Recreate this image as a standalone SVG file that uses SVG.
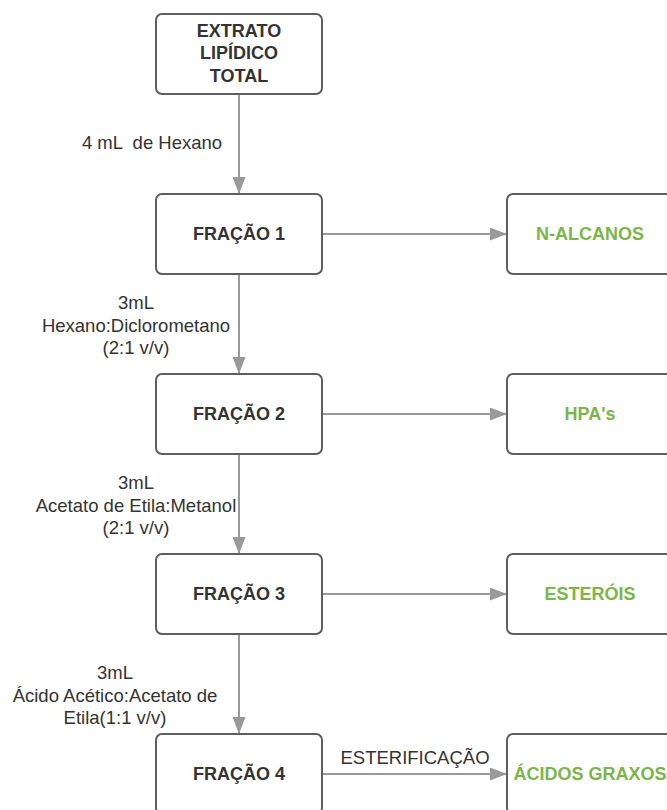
<svg xmlns="http://www.w3.org/2000/svg" width="667" height="810" viewBox="0 0 667 810">
<defs>
<style>
.box{fill:#fff;stroke:#5e5e5e;stroke-width:2}
.t{font-family:"Liberation Sans",Arial,sans-serif;font-size:18px;font-weight:bold;fill:#333;text-anchor:middle}
.g{font-family:"Liberation Sans",Arial,sans-serif;font-size:18px;font-weight:bold;fill:#7ab648;text-anchor:middle}
.l{font-family:"Liberation Sans",Arial,sans-serif;font-size:18.5px;fill:#333;text-anchor:middle;white-space:pre}
.c{stroke:#999;stroke-width:2;fill:none}
</style>
<marker id="ah" viewBox="0 0 17 13" refX="17" refY="6.5" markerWidth="17" markerHeight="13" markerUnits="userSpaceOnUse" orient="auto">
<path d="M0,0 L17,6.5 L0,13 Z" fill="#999"/>
</marker>
</defs>
<rect width="667" height="810" fill="#fff"/>
<g id="connectors">
<line class="c" x1="239" y1="94" x2="239" y2="194" marker-end="url(#ah)"/>
<line class="c" x1="239" y1="274" x2="239" y2="374" marker-end="url(#ah)"/>
<line class="c" x1="239" y1="454" x2="239" y2="554" marker-end="url(#ah)"/>
<line class="c" x1="239" y1="634" x2="239" y2="734" marker-end="url(#ah)"/>
<line class="c" x1="322" y1="234" x2="507" y2="234" marker-end="url(#ah)"/>
<line class="c" x1="322" y1="414" x2="507" y2="414" marker-end="url(#ah)"/>
<line class="c" x1="322" y1="594" x2="507" y2="594" marker-end="url(#ah)"/>
<line class="c" x1="322" y1="774" x2="507" y2="774" marker-end="url(#ah)"/>
<text class="l" x="152" y="149">4 mL  de Hexano</text>
<text class="l" x="136" y="309">3mL</text>
<text class="l" x="136" y="332">Hexano:Diclorometano</text>
<text class="l" x="136" y="354">(2:1 v/v)</text>
<text class="l" x="136" y="489">3mL</text>
<text class="l" x="136" y="512">Acetato de Etila:Metanol</text>
<text class="l" x="136" y="534">(2:1 v/v)</text>
<text class="l" x="115" y="679">3mL</text>
<text class="l" x="115" y="702">Ácido Acético:Acetato de</text>
<text class="l" x="115" y="724">Etila(1:1 v/v)</text>
<text class="l" x="415" y="764">ESTERIFICAÇÃO</text>
</g>
<g id="extrato">
<rect class="box" x="156" y="14" width="166" height="80" rx="6"/>
<text class="t" x="239" y="37">EXTRATO</text>
<text class="t" x="239" y="59">LIPÍDICO</text>
<text class="t" x="239" y="82">TOTAL</text>
</g>
<g id="fracao1">
<rect class="box" x="156" y="194" width="166" height="80" rx="6"/>
<text class="t" x="239" y="240">FRAÇÃO 1</text>
</g>
<g id="fracao2">
<rect class="box" x="156" y="374" width="166" height="80" rx="6"/>
<text class="t" x="239" y="420">FRAÇÃO 2</text>
</g>
<g id="fracao3">
<rect class="box" x="156" y="554" width="166" height="80" rx="6"/>
<text class="t" x="239" y="600">FRAÇÃO 3</text>
</g>
<g id="fracao4">
<rect class="box" x="156" y="734" width="166" height="80" rx="6"/>
<text class="t" x="239" y="780">FRAÇÃO 4</text>
</g>
<g id="nalcanos">
<rect class="box" x="507" y="194" width="166" height="80" rx="6"/>
<text class="g" x="590" y="240">N-ALCANOS</text>
</g>
<g id="hpas">
<rect class="box" x="507" y="374" width="166" height="80" rx="6"/>
<text class="g" x="590" y="420">HPA's</text>
</g>
<g id="esterois">
<rect class="box" x="507" y="554" width="166" height="80" rx="6"/>
<text class="g" x="590" y="600">ESTERÓIS</text>
</g>
<g id="acidos">
<rect class="box" x="507" y="734" width="166" height="80" rx="6"/>
<text class="g" x="590" y="780">ÁCIDOS GRAXOS</text>
</g>
</svg>
